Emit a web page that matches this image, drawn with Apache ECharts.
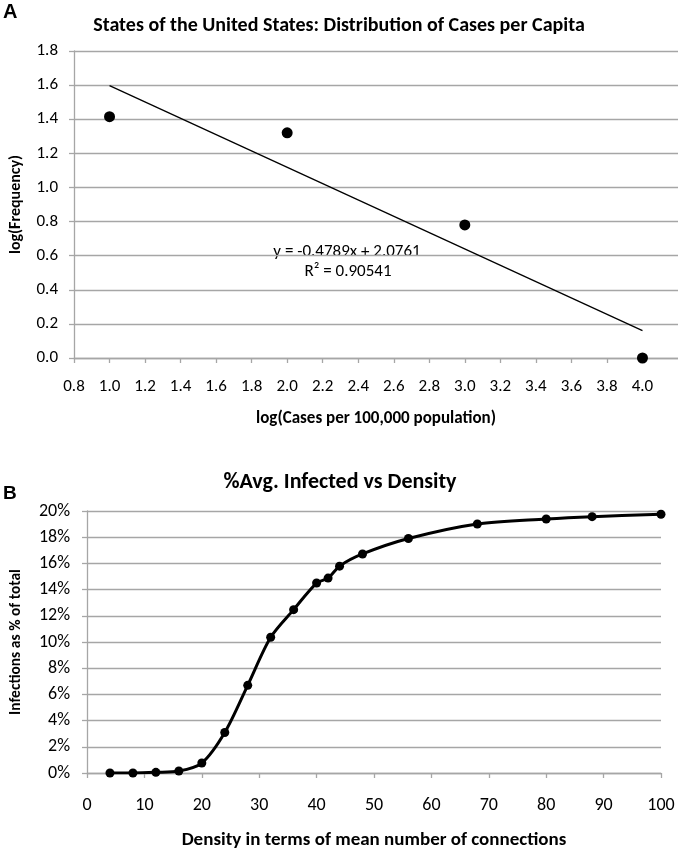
<!DOCTYPE html>
<html>
<head>
<meta charset="utf-8">
<script src="https://cdn.jsdelivr.net/npm/echarts@6/dist/echarts.min.js"></script>
<style>
  html, body { margin: 0; padding: 0; background: #fff; }
  #chart { width: 678px; height: 851px; }
</style>
</head>
<body>
<div id="chart"></div>
<script>
// panel A: states, log-log distribution
const statesX = [1.0, 2.0, 3.0, 4.0];
const statesY = [1.415, 1.32, 0.78, 0.0];
const trendX = [1.0, 4.0];
const trendY = [1.597, 0.160];
const trendLabel = ["y = -0.4789x + 2.0761", "R\u00b2 = 0.90541"];

// panel B: infected share vs density
const densityX = [4, 8, 12, 16, 20, 24, 28, 32, 36, 40, 42, 44, 48, 56, 68, 80, 88, 100];
const infectedPct = [0, 0, 0.05, 0.15, 0.76, 3.09, 6.69, 10.36, 12.47, 14.5, 14.88, 15.79, 16.72, 17.9, 19.01, 19.39, 19.57, 19.75];

const FONT = "Carlito, 'Liberation Sans Narrow', 'Open Sans', sans-serif";
const GRID = "#a6a6a6";
const INK = "#000";

const chart = echarts.init(document.getElementById("chart"));

function axisBase(nameSize) {
  return {
    axisLine: { show: true, lineStyle: { color: GRID, width: 1.3 } },
    axisTick: { show: true, length: 5, lineStyle: { color: GRID, width: 1.3 } },
    splitLine: { show: false },
    nameLocation: "middle",
    nameTextStyle: { fontFamily: FONT, fontWeight: "bold", fontSize: nameSize, color: INK },
  };
}

chart.setOption({
  backgroundColor: "#fff",
  animation: false,
  title: [
    {
      text: "States of the United States: Distribution of Cases per Capita",
      left: "center", top: 11,
      textStyle: { fontFamily: FONT, fontWeight: "bold", fontSize: 20, color: INK },
    },
    {
      text: "%Avg. Infected vs Density",
      left: 335, top: 466, textAlign: "center",
      textStyle: { fontFamily: FONT, fontWeight: "bold", fontSize: 22, color: INK },
    },
  ],
  graphic: [
    { type: "text", left: 3, top: 2, style: { text: "A", font: "bold 20px 'Liberation Sans', Arial", fill: INK } },
    { type: "text", left: 3, top: 484, style: { text: "B", font: "bold 19px 'Liberation Sans', Arial", fill: INK } },
    { type: "text", x: 347, y: 252, style: { text: trendLabel[0], font: "17px " + FONT, fill: INK, align: "center", verticalAlign: "middle" } },
    { type: "text", x: 348, y: 272, style: { text: trendLabel[1], font: "17px " + FONT, fill: INK, align: "center", verticalAlign: "middle" } },
  ],
  grid: [
    { left: 64, top: 51, width: 631, height: 307 },
    { left: 84, top: 511, width: 577, height: 263 },
  ],
  xAxis: [
    Object.assign(axisBase(17), {
      type: "value", gridIndex: 0, min: 0.8, max: 4.2, interval: 0.2,
      name: "log(Cases per 100,000 population)", nameGap: 52,
      axisLabel: { fontFamily: FONT, fontSize: 17, color: INK, margin: 20, showMaxLabel: false,
        formatter: (v) => v.toFixed(1) },
    }),
    Object.assign(axisBase(19), {
      type: "value", gridIndex: 1, min: 0, max: 100, interval: 10,
      name: "Density in terms of mean number of connections", nameGap: 58,
      axisLabel: { fontFamily: FONT, fontSize: 18, color: INK, margin: 23 },
    }),
  ],
  yAxis: [
    Object.assign(axisBase(16), {
      type: "value", gridIndex: 0, min: 0, max: 1.8, interval: 0.2,
      name: "log(Frequency)", nameGap: 50,
      splitLine: { show: true, lineStyle: { color: GRID, width: 1.3 } },
      axisLabel: { fontFamily: FONT, fontSize: 17, color: INK, margin: 16,
        formatter: (v) => v.toFixed(1) },
    }),
    Object.assign(axisBase(15.5), {
      type: "value", gridIndex: 1, min: 0, max: 20, interval: 2,
      name: "Infections as % of total", nameGap: 63,
      splitLine: { show: true, lineStyle: { color: GRID, width: 1.3 } },
      axisLabel: { fontFamily: FONT, fontSize: 18, color: INK, margin: 17,
        formatter: (v) => v + "%" },
    }),
  ],
  series: [
    {
      type: "line", xAxisIndex: 0, yAxisIndex: 0,
      data: trendX.map((x, i) => [x, trendY[i]]),
      showSymbol: false, lineStyle: { color: INK, width: 1.3 },
    },
    {
      type: "scatter", xAxisIndex: 0, yAxisIndex: 0,
      data: statesX.map((x, i) => [x, statesY[i]]),
      symbolSize: 11, itemStyle: { color: INK, opacity: 1 },
    },
    {
      type: "line", xAxisIndex: 1, yAxisIndex: 1, smooth: 0.3,
      data: densityX.map((x, i) => [x, infectedPct[i]]),
      symbol: "circle", symbolSize: 9,
      lineStyle: { color: INK, width: 3 }, itemStyle: { color: INK, opacity: 1 },
    },
  ],
});
</script>
</body>
</html>
